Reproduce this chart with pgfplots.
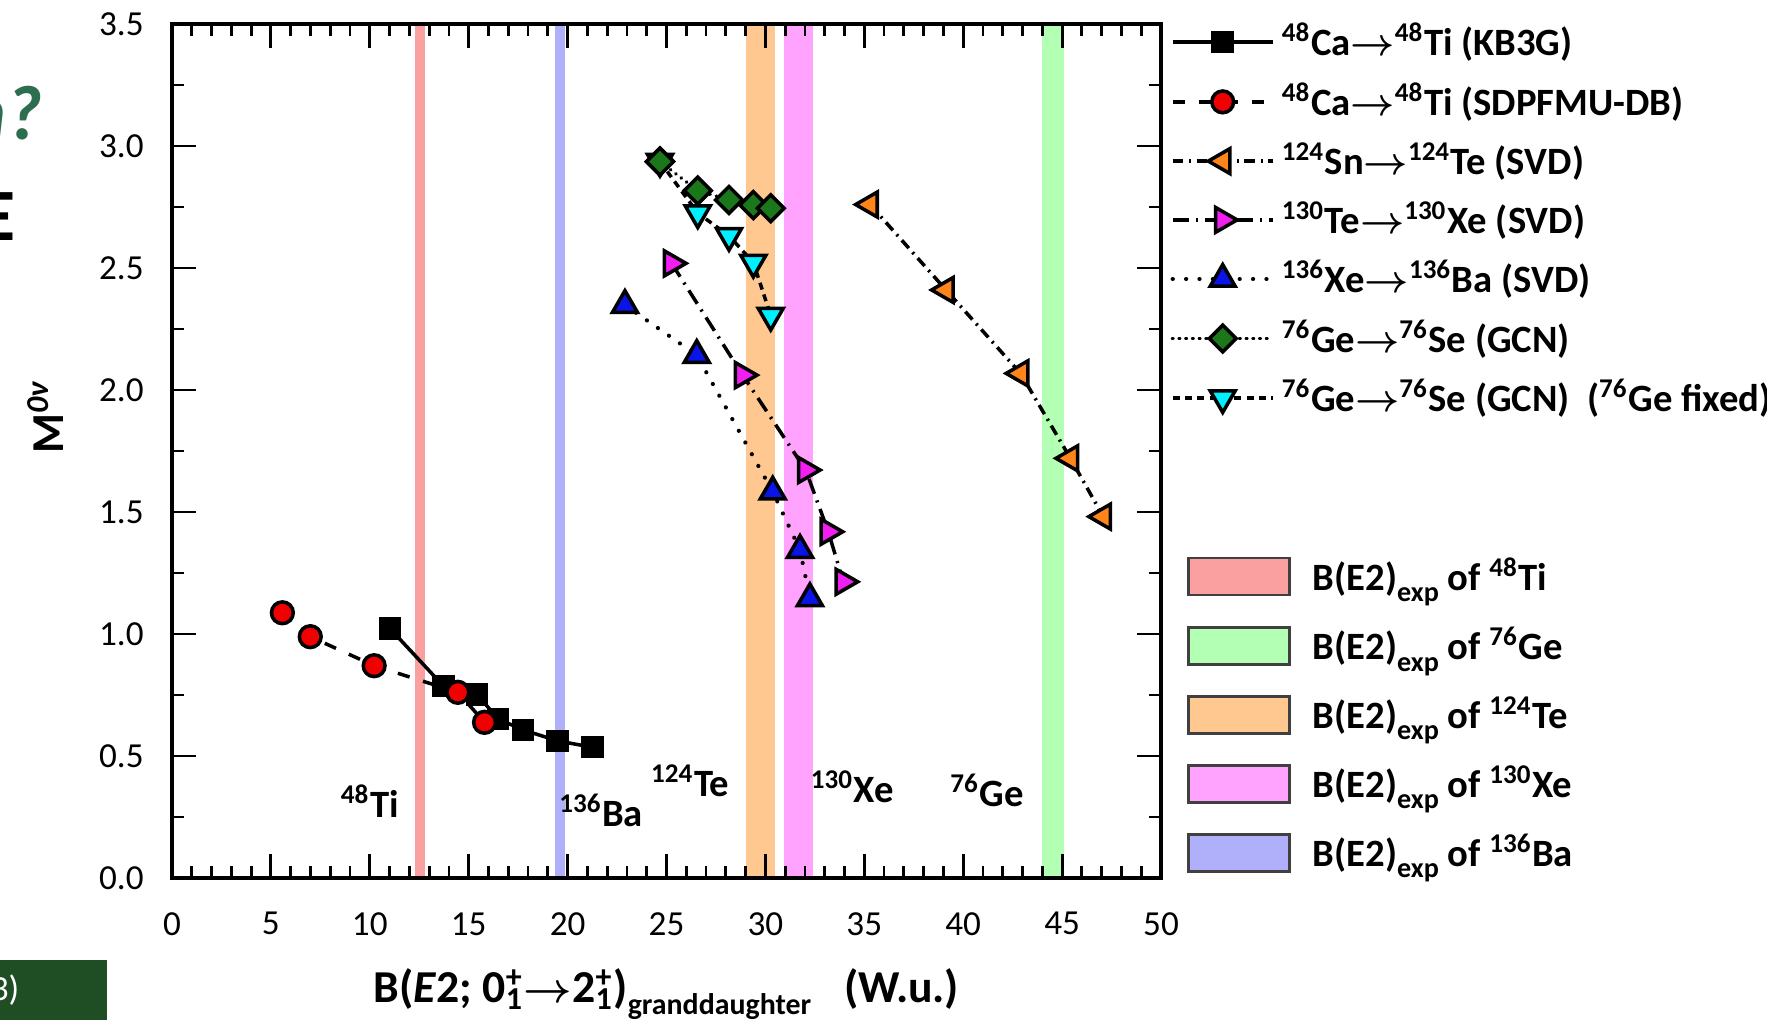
\documentclass[border=0pt]{standalone}
\usepackage{fontspec}
\setmainfont{Carlito}
\usepackage{amsmath}
\usepackage{pgfplots}
\pgfplotsset{compat=1.18}
\definecolor{bandred}{RGB}{250,160,160}
\definecolor{bandgreen}{RGB}{179,255,179}
\definecolor{bandorange}{RGB}{255,200,145}
\definecolor{bandmag}{RGB}{255,163,255}
\definecolor{bandblue}{RGB}{175,175,250}
\definecolor{mkred}{RGB}{240,0,0}
\definecolor{mkorange}{RGB}{255,133,27}
\definecolor{mkmag}{RGB}{240,30,240}
\definecolor{mkblue}{RGB}{10,20,230}
\definecolor{mkgreen}{RGB}{26,120,26}
\definecolor{mkcyan}{RGB}{0,240,255}
\definecolor{slidegreen}{RGB}{46,110,80}
\definecolor{boxgreen}{RGB}{31,77,36}
\newcommand\arr{\ensuremath{\boldsymbol{\rightarrow}}}
\newcommand\sups[1]{\textsuperscript{#1}}
\newcommand\expsub{\raisebox{-0.6ex}{\fontsize{8}{8}\selectfont exp}}

\pgfplotstableread{
x y
11.01 1.023
13.72 0.787
15.42 0.753
16.48 0.652
17.75 0.607
19.49 0.562
21.25 0.536
}\kbthreeg
\pgfplotstableread{
x y
5.58 1.087
6.99 0.989
10.22 0.870
14.45 0.761
15.80 0.638
}\sdpfmu
\pgfplotstableread{
x y
35.29 2.760
39.13 2.410
42.90 2.068
45.42 1.720
47.08 1.481
}\snte
\pgfplotstableread{
x y
25.26 2.519
28.85 2.061
32.04 1.672
33.18 1.419
33.94 1.214
}\texe
\pgfplotstableread{
x y
22.90 2.348
26.53 2.143
30.37 1.583
31.75 1.344
32.25 1.146
}\xeba
\pgfplotstableread{
x y
24.67 2.936
26.58 2.817
28.16 2.779
29.39 2.758
30.27 2.745
}\gegcn
\pgfplotstableread{
x y
24.67 2.936
26.58 2.725
28.16 2.632
29.39 2.522
30.27 2.305
}\gefixed

\begin{document}
\begin{tikzpicture}
% ---------- bands + band legend ----------
\begin{axis}[
  width=9.89cm, height=8.54cm, scale only axis,
  xmin=0, xmax=50, ymin=0, ymax=3.5,
  hide axis,
  legend style={at={(1.026,0.384)}, anchor=north west, draw=none, fill=none,
    font=\bfseries\fontsize{11}{13}\selectfont, row sep=5.0pt, inner sep=0pt,
    cells={anchor=west},
    /tikz/every odd column/.append style={column sep=1.5mm}},
  legend image code/.code={\draw[#1, draw=black!75, line width=0.7pt] (0cm,-0.185cm) rectangle (1.01cm,0.185cm);},
]
\addplot[fill=bandred, draw=none] coordinates {(12.27,3.5) (12.80,3.5)} \closedcycle;
\addlegendentry{B(E2)\expsub\ of \sups{48}Ti}
\addplot[fill=bandgreen, draw=none] coordinates {(44.0,3.5) (45.08,3.5)} \closedcycle;
\addlegendentry{B(E2)\expsub\ of \sups{76}Ge}
\addplot[fill=bandorange, draw=none] coordinates {(29.02,3.5) (30.5,3.5)} \closedcycle;
\addlegendentry{B(E2)\expsub\ of \sups{124}Te}
\addplot[fill=bandmag, draw=none] coordinates {(30.92,3.5) (32.4,3.5)} \closedcycle;
\addlegendentry{B(E2)\expsub\ of \sups{130}Xe}
\addplot[fill=bandblue, draw=none] coordinates {(19.35,3.5) (19.85,3.5)} \closedcycle;
\addlegendentry{B(E2)\expsub\ of \sups{136}Ba}
\end{axis}

% ---------- data axis ----------
\begin{axis}[
  width=9.89cm, height=8.54cm, scale only axis,
  xmin=0, xmax=50, ymin=0, ymax=3.5,
  axis on top,
  xtick={0,5,...,50}, minor x tick num=4,
  ytick={0,0.5,1,1.5,2,2.5,3,3.5}, minor y tick num=1,
  tick align=inside,
  major tick length=2.4mm, minor tick length=1.2mm,
  every tick/.style={black, line width=0.8pt},
  axis line style={line width=0.9pt},
  /pgf/number format/assume math mode=true,
  tick label style={font=\fontsize{10}{12}\selectfont},
  yticklabel style={xshift=-1.6mm, /pgf/number format/fixed, /pgf/number format/fixed zerofill, /pgf/number format/precision=1},
  xticklabel style={yshift=-2.2mm},
  xlabel={B(\textit{E}2; 0\rlap{\sups{+}}\textsubscript{1}\arr2\rlap{\sups{+}}\textsubscript{1})\raisebox{-0.55ex}{\fontsize{8.5}{9}\selectfont granddaughter}\enspace\ (W.u.)},
  ylabel={M\sups{\textit{0ν}}},
  xlabel style={at={(axis description cs:0.5,-0.146)}, anchor=base, font=\bfseries\fontsize{13}{15}\selectfont},
  ylabel style={at={(axis description cs:-0.128,0.54)}, anchor=center, font=\bfseries\fontsize{13}{15}\selectfont},
  legend style={at={(1.009,1.010)}, anchor=north west, draw=none, fill=none,
    font=\bfseries\fontsize{11}{13}\selectfont, row sep=2.2pt, inner sep=0pt,
    cells={anchor=west}},
  legend image code/.code={\draw[mark repeat=2,mark phase=2,#1] plot coordinates {(0cm,0cm)(0.5cm,0cm)(1.0cm,0cm)};},
]
\addplot[black, line width=1pt, mark=square*, mark size=2.7pt,
  mark options={solid, fill=black, draw=black}] table {\kbthreeg};
\addlegendentry{\sups{48}Ca\arr\sups{48}Ti (KB3G)}
\addplot[black, line width=1pt, dash pattern=on 3.5pt off 4pt, mark=*, mark size=3.1pt,
  mark options={solid, fill=mkred, draw=black, line width=1pt}] table {\sdpfmu};
\addlegendentry{\sups{48}Ca\arr\sups{48}Ti (SDPFMU-DB)}
\addplot[black, line width=1pt, dash pattern=on 3pt off 1.6pt on 0.6pt off 1.6pt, mark=triangle*, mark size=4.1pt,
  mark options={solid, rotate=90, fill=mkorange, draw=black, line width=1pt}] table {\snte};
\addlegendentry{\sups{124}Sn\arr\sups{124}Te (SVD)}
\addplot[black, line width=1pt, dash pattern=on 4.5pt off 2pt on 0.6pt off 2pt, mark=triangle*, mark size=4.1pt,
  mark options={solid, rotate=-90, fill=mkmag, draw=black, line width=1pt}] table {\texe};
\addlegendentry{\sups{130}Te\arr\sups{130}Xe (SVD)}
\addplot[black, line width=1.2pt, line cap=round, dash pattern=on 0.01pt off 3.8pt, mark=triangle*, mark size=4.1pt,
  mark options={solid, fill=mkblue, draw=black, line width=1pt}] table {\xeba};
\addlegendentry{\sups{136}Xe\arr\sups{136}Ba (SVD)}
\addplot[black, line width=1.1pt, line cap=round, dash pattern=on 0.01pt off 1.9pt, mark=square*, mark size=2.7pt,
  mark options={solid, rotate=45, fill=mkgreen, draw=black, line width=1pt}] table {\gegcn};
\addlegendentry{\sups{76}Ge\arr\sups{76}Se (GCN)}
\addplot[black, line width=1pt, dash pattern=on 2pt off 1.5pt, mark=triangle*, mark size=4.1pt,
  mark options={solid, rotate=180, fill=mkcyan, draw=black, line width=1pt}] table {\gefixed};
\addlegendentry{\sups{76}Ge\arr\sups{76}Se (GCN)~ (\sups{76}Ge fixed)}
\addplot[forget plot, only marks, mark=square*, mark size=2.7pt,
  mark options={solid, rotate=45, fill=mkgreen, draw=black, line width=1pt}] coordinates {(24.67,2.936)};

\node[font=\bfseries\fontsize{11}{13}\selectfont, anchor=base] at (axis cs:10.0,0.25) {\sups{48}Ti};
\node[font=\bfseries\fontsize{11}{13}\selectfont, anchor=base] at (axis cs:21.7,0.21) {\sups{136}Ba};
\node[font=\bfseries\fontsize{11}{13}\selectfont, anchor=base] at (axis cs:26.2,0.333) {\sups{124}Te};
\node[font=\bfseries\fontsize{11}{13}\selectfont, anchor=base] at (axis cs:34.4,0.31) {\sups{130}Xe};
\node[font=\bfseries\fontsize{11}{13}\selectfont, anchor=base] at (axis cs:41.2,0.295) {\sups{76}Ge};
\end{axis}

% slide fragments at the edges
\node[anchor=east, inner sep=0pt, text=slidegreen, font=\bfseries\itshape\fontsize{22}{24}\selectfont] at (-1.29,7.65) {ion?};
\node[anchor=east, inner sep=0pt, font=\bfseries\fontsize{21}{24}\selectfont] at (-1.56,6.61) {E};
\fill[boxgreen] (-1.8,-1.5) rectangle (-0.65,-0.82);
\node[anchor=east, inner sep=0pt, text=white, font=\fontsize{10}{12}\selectfont] at (-1.52,-1.12) {(2013)};

\pgfresetboundingbox
\path[use as bounding box] (-1.72,-1.41) rectangle (15.95,8.78);
\end{tikzpicture}
\end{document}
